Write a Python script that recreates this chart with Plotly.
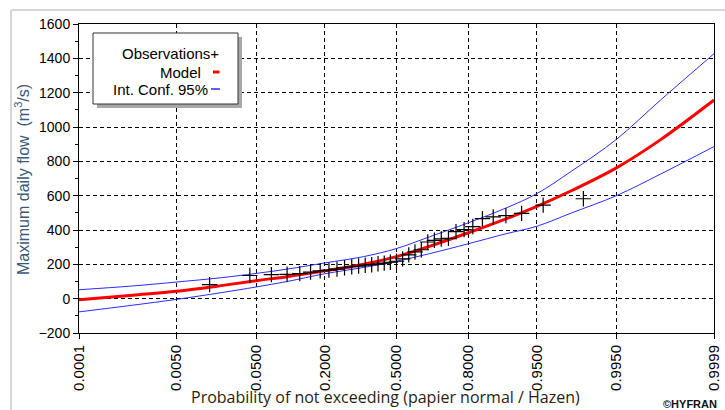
import plotly.graph_objects as go
from statistics import NormalDist

# ---------------- data ----------------
tick_probs = [0.0001, 0.005, 0.05, 0.2, 0.5, 0.8, 0.95, 0.995, 0.9999]
tick_labels = ["0.0001", "0.0050", "0.0500", "0.2000", "0.5000",
               "0.8000", "0.9500", "0.9950", "0.9999"]

# Hazen plotting positions of the 35 observations
obs_prob = [0.0143, 0.0429, 0.0714, 0.1000, 0.1286, 0.1571, 0.1857, 0.2143,
            0.2429, 0.2714, 0.3000, 0.3286, 0.3571, 0.3857, 0.4143, 0.4429,
            0.4714, 0.5000, 0.5286, 0.5571, 0.5857, 0.6143, 0.6429, 0.6714,
            0.7000, 0.7286, 0.7571, 0.7857, 0.8143, 0.8429, 0.8714, 0.9000,
            0.9286, 0.9571, 0.9857]
obs_flow = [82, 135, 140, 142, 146, 155, 162, 166, 172, 180, 186, 190, 195,
            198, 203, 207, 212, 218, 232, 255, 272, 285, 330, 340, 348, 352,
            390, 402, 420, 466, 476, 484, 497, 545, 582]

curve_prob = [0.0001, 0.001, 0.005, 0.02, 0.05, 0.1, 0.2, 0.35, 0.5, 0.65,
              0.8, 0.9, 0.95, 0.98, 0.995, 0.999, 0.9999]
model_flow = [-7, 20, 43, 76, 105, 128, 162, 200, 245, 305, 384, 465, 538,
              630, 762, 925, 1157]
upper_flow = [52, 74, 97, 122, 147, 172, 208, 245, 292, 360, 442, 528, 612,
              744, 928, 1156, 1427]
lower_flow = [-77, -38, -4, 35, 68, 100, 145, 182, 218, 262, 320, 378, 422,
              500, 600, 725, 886]

y_ticks = list(range(-200, 1601, 200))

# ---------------- scale (normal probability paper) ----------------
nd = NormalDist()
def zq(p):
    return nd.inv_cdf(p)

W, H = 725, 410
L, R, T, B = 79, 714, 24, 333

def px(x):
    return (x - L) / (R - L)

def py(y):
    return (B - y) / (B - T)

fig = go.Figure()

fig.add_trace(go.Scatter(x=[zq(p) for p in curve_prob], y=upper_flow, mode="lines",
                         line=dict(color="#2b2bff", width=1, shape="spline"),
                         showlegend=False, hoverinfo="skip"))
fig.add_trace(go.Scatter(x=[zq(p) for p in curve_prob], y=lower_flow, mode="lines",
                         line=dict(color="#2b2bff", width=1, shape="spline"),
                         showlegend=False, hoverinfo="skip"))
fig.add_trace(go.Scatter(x=[zq(p) for p in curve_prob], y=model_flow, mode="lines",
                         line=dict(color="#ff0000", width=3, shape="spline"),
                         showlegend=False))
fig.add_trace(go.Scatter(x=[zq(p) for p in obs_prob], y=obs_flow, mode="markers",
                         marker=dict(symbol="cross-thin", size=11,
                                     line=dict(color="black", width=1.2)),
                         showlegend=False))

tick_font = dict(family="Liberation Sans, Arial, sans-serif", color="black")

fig.update_xaxes(range=[zq(tick_probs[0]), zq(tick_probs[-1])],
                 tickmode="array", tickvals=[zq(p) for p in tick_probs],
                 ticktext=tick_labels, tickangle=-90,
                 tickfont=dict(size=15, **tick_font),
                 ticks="outside", ticklen=5, tickcolor="black",
                 showline=True, linecolor="black", linewidth=1, mirror=True,
                 showgrid=True, gridcolor="black", gridwidth=1, griddash="4px,3px",
                 zeroline=False, automargin=False)
fig.update_yaxes(range=[-200, 1600], tickmode="array", tickvals=y_ticks,
                 tickfont=dict(size=14, **tick_font),
                 ticks="outside", ticklen=5, tickcolor="black",
                 minor=dict(dtick=100, tick0=0, ticks="outside", ticklen=3,
                            tickcolor="black", showgrid=False),
                 showline=True, linecolor="black", linewidth=1, mirror=True,
                 showgrid=True, gridcolor="black", gridwidth=1, griddash="4px,3px",
                 zeroline=False, automargin=False)

shapes = []
# outer window frame (top and left)
shapes.append(dict(type="line", xref="paper", yref="paper",
                   x0=px(11), x1=px(W + 5), y0=py(10), y1=py(10),
                   line=dict(color="#d6d6d6", width=2)))
shapes.append(dict(type="line", xref="paper", yref="paper",
                   x0=px(11), x1=px(11), y0=py(10), y1=py(H + 5),
                   line=dict(color="#d6d6d6", width=2)))
# legend shadow + box
shapes.append(dict(type="rect", xref="paper", yref="paper",
                   x0=px(97), x1=px(242), y0=py(37), y1=py(108),
                   fillcolor="#a8a8a8", line=dict(width=0), layer="above"))
shapes.append(dict(type="rect", xref="paper", yref="paper",
                   x0=px(93), x1=px(238), y0=py(33), y1=py(104),
                   fillcolor="white", line=dict(color="#333333", width=1), layer="above"))
# legend keys
shapes.append(dict(type="line", xref="paper", yref="paper",
                   x0=px(213), x1=px(219.5), y0=py(72), y1=py(72),
                   line=dict(color="#ff0000", width=3), layer="above"))
shapes.append(dict(type="line", xref="paper", yref="paper",
                   x0=px(211), x1=px(220), y0=py(89), y1=py(89),
                   line=dict(color="#2b2bff", width=1.5), layer="above"))
fig.update_layout(shapes=shapes)

leg_font = dict(family="Liberation Sans, Arial, sans-serif", size=15, color="black")
annotations = [
    dict(text="Observations+", x=px(221), y=py(54), xanchor="right", yanchor="middle"),
    dict(text="Model", x=px(203), y=py(72), xanchor="right", yanchor="middle"),
    dict(text="Int. Conf. 95%", x=px(210), y=py(89.5), xanchor="right", yanchor="middle"),
]
for a in annotations:
    a.update(xref="paper", yref="paper", showarrow=False, font=leg_font)

annotations.append(dict(text="Probability of not exceeding (papier normal / Hazen)",
                        xref="paper", yref="paper", x=px(385), y=py(397),
                        xanchor="center", yanchor="middle", showarrow=False,
                        font=dict(family="Open Sans, Noto Sans, sans-serif",
                                  size=16, color="#2a1e10")))
annotations.append(dict(text="Maximum daily flow  (m<sup>3</sup>/s)",
                        xref="paper", yref="paper", x=px(22), y=py(180),
                        xanchor="center", yanchor="middle", textangle=-90,
                        showarrow=False,
                        font=dict(family="Liberation Sans, Arial, sans-serif",
                                  size=16, color="#3b5878")))
annotations.append(dict(text="<b>©HYFRAN</b>", xref="paper", yref="paper",
                        x=px(719), y=py(404), xanchor="right", yanchor="middle",
                        showarrow=False,
                        font=dict(family="Liberation Sans, Arial, sans-serif",
                                  size=11, color="#111111")))

fig.update_layout(annotations=annotations, width=W, height=H,
                  margin=dict(l=L, r=W - R, t=T, b=H - B),
                  paper_bgcolor="white", plot_bgcolor="white",
                  template="none", showlegend=False)

fig.write_html("out.html", config={"displayModeBar": False},
               post_script="document.body.style.margin='0';document.body.style.overflow='hidden';")
